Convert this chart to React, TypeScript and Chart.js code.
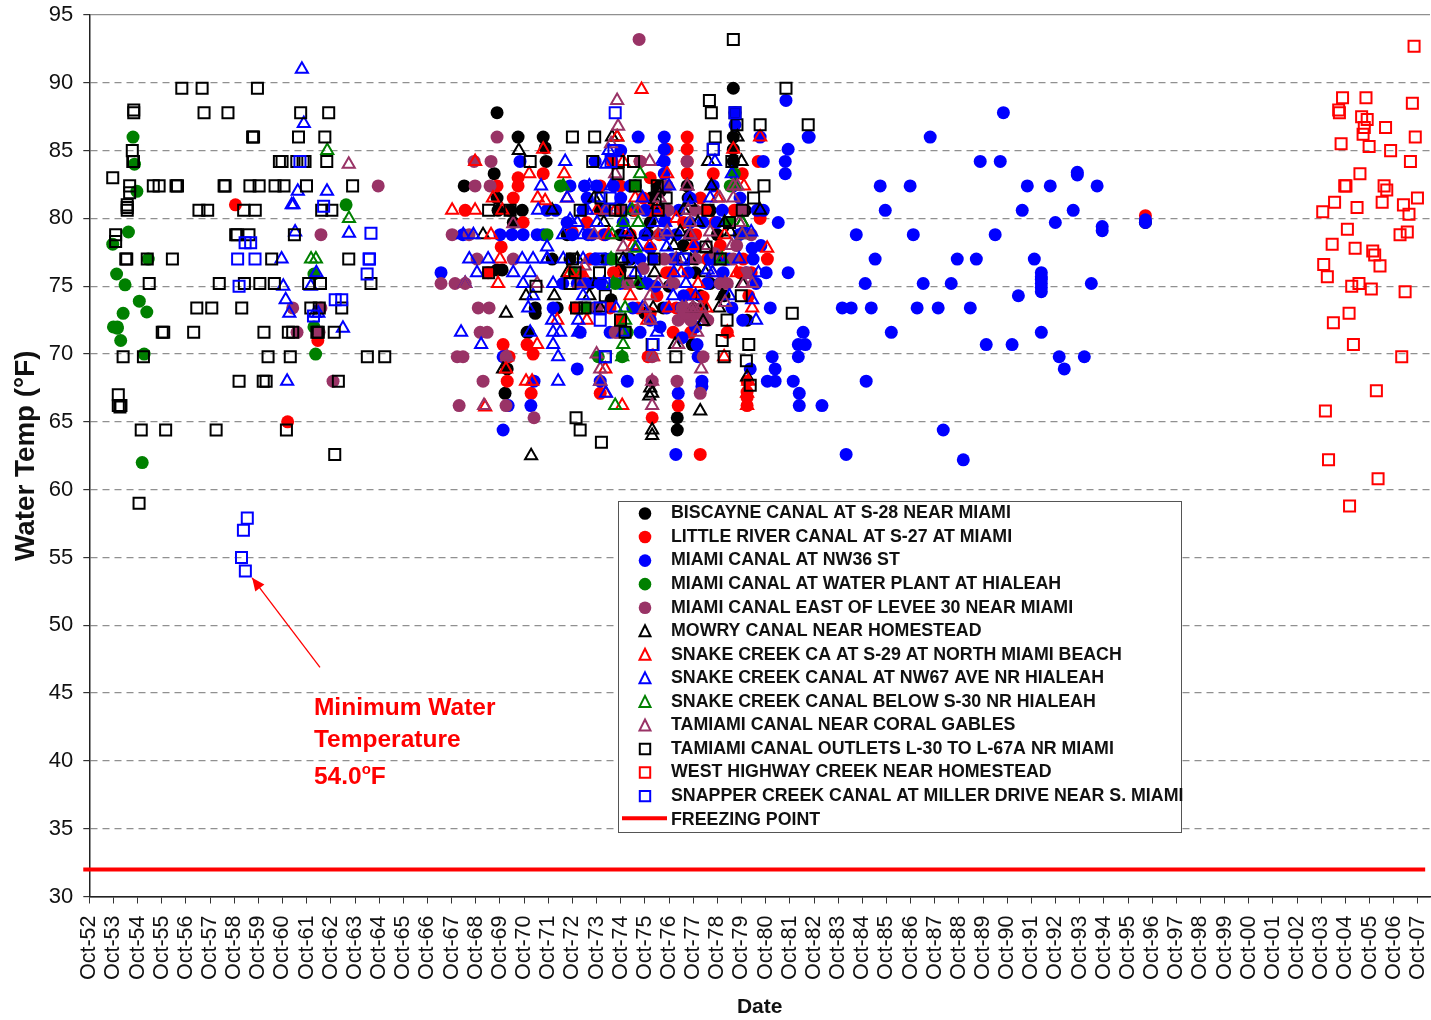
import React, { useEffect, useRef } from "react";
import { Chart, registerables } from "chart.js";

Chart.register(...registerables);

type P = [number, number];

// x = years since Oct-52, y = water temperature in deg F
const tickLabels = ["Oct-52","Oct-53","Oct-54","Oct-55","Oct-56","Oct-57","Oct-58","Oct-59","Oct-60","Oct-61","Oct-62","Oct-63","Oct-64","Oct-65","Oct-66","Oct-67","Oct-68","Oct-69","Oct-70","Oct-71","Oct-72","Oct-73","Oct-74","Oct-75","Oct-76","Oct-77","Oct-78","Oct-79","Oct-80","Oct-81","Oct-82","Oct-83","Oct-84","Oct-85","Oct-86","Oct-87","Oct-88","Oct-89","Oct-90","Oct-91","Oct-92","Oct-93","Oct-94","Oct-95","Oct-96","Oct-97","Oct-98","Oct-99","Oct-00","Oct-01","Oct-02","Oct-03","Oct-04","Oct-05","Oct-06","Oct-07"];

const biscayne: P[] = [[16.88,87.8],[17.75,86],[18.79,86],[18.87,85.2],[18.91,84.2],[15.52,82.4],[16.76,83.3],[16.88,81.5],[17.42,80.6],[17.92,80.6],[16.92,80.6],[17.55,79.7],[16.88,76.2],[17.09,76.2],[18.17,71.6],[18.12,71.6],[18.46,73],[17.3,68.9],[17.21,67.1],[24.34,65.3],[24.34,64.4],[26.66,89.6],[26.66,86],[26.66,85.1],[26.66,84.2],[23.51,82.4],[23.63,82],[24.75,82.4],[23.26,81.5],[23.34,80.6],[23.22,79.7],[23.13,78.8],[24.79,81.5],[24.25,77],[25.08,76],[25.7,75.2],[25.91,77],[25.29,74.3],[24.96,70.7],[26.28,74.3],[27.23,72.5],[21.15,80.6],[21.98,78.8],[18.46,73.4],[19.16,77],[19.9,77],[20.73,75.2],[21.36,77],[21.98,76.2],[22.8,75.2],[23.76,73.4],[26.32,77],[25.37,73.4],[24.87,78.8],[25.7,80.6],[26,78.8],[27.15,80.6],[19.78,78.8],[19.37,73.4],[43.72,79.7],[22.4,77],[23,73],[24,75],[24.6,78],[21.6,74],[22.5,80.6]];

const littleRiver: P[] = [[17.75,83],[17.75,82.4],[17.55,81.5],[18.79,83.3],[15.56,80.6],[16.88,82.4],[17.96,79.7],[17.05,77.9],[16.51,76],[17.13,70.7],[17.38,69.8],[18.12,70.7],[18.37,70],[17.3,68],[18.29,67.1],[21.15,67.1],[24.75,86],[24.75,85.1],[24.75,84.2],[24.75,83.3],[25.83,83.3],[27.69,84.2],[27.03,83.3],[23.92,85.1],[22.93,81.5],[26.12,78],[28.07,77],[25.29,62.6],[24.38,66.2],[23.3,65.3],[24.17,71.6],[23.13,69.8],[27.23,68],[27.23,66.2],[27.23,67.2],[27.23,66.8],[25.41,74.2],[24.87,74.4],[24.05,76],[25.58,77],[27.07,77],[26.94,76],[26.41,71.6],[21.15,82.4],[21.98,82.4],[21.64,84.2],[22.39,78.8],[23.22,80.6],[19.99,79],[20.32,76],[20.73,77],[21.56,73.4],[22.18,75.2],[23.22,73],[25.5,80.6],[23.22,83],[22.8,84.2],[27.77,80],[43.72,80.2],[6.05,81],[8.21,65],[9.46,71],[21.3,78.8],[21.7,76],[22,72.5],[22.6,80.6],[23.6,78.8],[23.9,76],[24.3,73.4],[24.6,79.7],[25.1,78.8],[25.3,81.5],[25.9,79.7],[26.4,77],[26.7,80.6],[27.3,74.3],[27.4,76],[22.7,73.4],[23.5,74.3],[24.9,71.6],[20.1,73.4],[20.6,79.7]];

const miamiNW36: P[] = [[14.56,76],[17.83,84.2],[19.9,82.4],[18.95,80.6],[19.78,79.7],[20.61,81.5],[20.44,80.6],[17,78.8],[17.5,78.8],[17.96,78.8],[18.54,78.8],[15.47,78.8],[19.99,78.8],[20.65,78.8],[20.2,75.2],[20.53,75.2],[19.2,73.4],[20.32,71.6],[17.13,69.8],[20.2,68.9],[21.15,68],[18.41,68],[18.28,66.2],[17.34,66.2],[17.13,64.4],[22.72,86],[23.8,86],[23.8,85.1],[23.8,84.2],[23.8,83.3],[25.83,82.4],[22.39,82.4],[24.87,81.5],[26.66,82.4],[26.94,81.5],[26.73,87.8],[26.73,86.9],[27.77,86],[28.93,85.1],[28.81,84.2],[28.81,83.3],[27.9,84.2],[28.84,88.7],[29.76,86],[28.52,79.7],[27.65,80.6],[27.9,80.6],[23.01,80.6],[23.84,79.8],[23.01,78.8],[23.84,78.8],[23.22,77.8],[23.34,77],[24.87,79.7],[25.99,79.7],[27.44,77.8],[27.48,77],[22.27,68],[24.38,67.1],[24.28,62.6],[28.19,73.4],[29.55,71.6],[29.35,70.7],[29.64,70.7],[29.35,69.8],[28.27,69.8],[28.39,68.9],[27.36,68.9],[28.07,68],[28.39,68],[29.14,68],[29.39,67.1],[29.39,66.2],[25.36,68],[25.36,67.6],[28.02,76],[26.24,76],[24.79,76],[25.58,75.2],[24.54,71.2],[25.16,70.7],[25.2,69.8],[30.33,66.2],[31.33,62.6],[36.18,62.2],[35.35,64.4],[32.16,68],[21.36,78.8],[21.56,77],[21.98,75.2],[22.8,77],[23.42,75],[24.13,75.2],[21.15,75.2],[20.94,77],[21.56,71.6],[23.63,72],[24.13,77],[22.8,71.6],[23.22,72.5],[24.5,73.4],[25.08,77.9],[26.2,80.6],[27.1,79],[22.1,79.7],[21,82.4],[22,81.5],[20.5,82.4],[20.94,84.2],[22,85],[21.98,80.6],[25.1,72],[37.84,87.8],[34.81,86],[29.8,86],[36.88,84.2],[37.71,84.2],[32.74,82.4],[33.98,82.4],[38.83,82.4],[39.78,82.4],[41.72,82.4],[40.9,83.4],[40.9,83.2],[32.95,80.6],[38.62,80.6],[40.73,80.6],[39.99,79.7],[41.93,79.4],[41.93,79.1],[31.75,78.8],[34.11,78.8],[37.5,78.8],[43.72,79.9],[43.72,79.7],[32.53,77],[35.93,77],[36.72,77],[39.12,77],[28.93,76],[39.41,76],[39.41,75.7],[39.41,75.5],[39.41,75.2],[39.41,74.9],[39.41,74.6],[32.12,75.2],[34.52,75.2],[35.68,75.2],[41.48,75.2],[38.46,74.3],[31.17,73.4],[31.54,73.4],[32.37,73.4],[34.27,73.4],[35.14,73.4],[36.47,73.4],[33.2,71.6],[39.41,71.6],[37.13,70.7],[38.2,70.7],[40.15,69.8],[41.19,69.8],[40.36,68.9],[18.8,78.8],[19.3,80.6],[19.6,75.2],[20.8,78.8],[20.9,73.4],[21.4,80.6],[21.7,82.4],[22.3,77],[22.5,73.4],[22.6,82.4],[23.1,75.2],[23.6,80.6],[23.9,73.4],[24.4,80.6],[24.6,74.3],[24.3,78.8],[25.4,79.7],[25.7,77],[26.1,75.2],[26.5,77],[26.9,78.8],[27.2,76],[27.6,75.2],[27.8,78],[26.6,73.4],[27.05,72.5]];

const waterPlant: P[] = [[1.81,86],[1.87,84],[1.97,82],[1.62,79],[0.97,78.1],[2.44,77],[1.13,75.9],[1.48,75.1],[2.07,73.9],[1.4,73],[2.38,73.1],[1.16,72],[1.16,71.9],[1.0,72],[1.3,71],[2.27,70],[9.3,75.9],[10.63,81],[9.3,72],[9.37,70],[2.19,62],[18.95,78.8],[19.5,82.4],[20.07,76],[20.57,73.4],[21.07,69.8],[21.64,77],[21.77,75.2],[22.27,71.6],[22.06,69.8],[26.49,79.7],[26.7,83.3],[26.53,82.4],[22.6,82.4]];

const eastLevee: P[] = [[22.76,93.2],[16.88,86],[15.93,84.2],[16.63,84.2],[15.97,82.4],[16.59,82.4],[15.02,78.8],[15.72,78.8],[14.56,75.2],[15.14,75.2],[15.56,75.2],[16.1,73.4],[16.55,73.4],[16.18,71.6],[16.47,71.6],[15.23,69.8],[15.47,69.8],[16.3,68],[15.31,66.2],[17.25,66.2],[18.41,65.3],[17.25,69.8],[11.96,82.4],[8.42,73.4],[8.6,71.6],[9.59,78.8],[9.51,71.6],[10.09,68],[9.59,73.4],[25.29,67.1],[24.33,68],[25.41,69.8],[24.38,72.5],[24.54,73.4],[26.66,77],[26.12,75.2],[26.41,75.2],[27.19,76],[21.77,71.6],[22.93,76.3],[22.8,84.2],[23.92,82.4],[24.75,84.2],[27.03,80.6],[25.08,80.6],[23.96,80.6],[21.98,80.6],[16.05,77],[17.55,77],[21.85,71.6],[21.02,73.4],[24.6,72.8],[25.2,73],[24.9,72.5],[25.6,72.5],[24.2,75.2],[25.1,77],[23.3,69.8],[23.3,68],[24.7,73],[25,73.4],[25.4,72.8],[23.8,77],[22.3,75.2],[26.8,78],[25.9,77.4],[27.4,78.8]];

const mowry: P[] = [[17.78,85],[21.64,86],[17.25,73],[18.29,62.5],[19.25,74.3],[18.08,74.3],[17.13,68.9],[16.3,78.8],[21.85,86],[24.75,82.4],[25.75,82.4],[26.83,86],[25.62,84.2],[27.0,84.2],[26.54,79],[24.87,81.2],[24.46,79],[23.51,82],[23.5,81],[25.5,77.8],[24.9,76.9],[27.77,80.6],[27.03,79.7],[25.29,65.8],[23.3,64.4],[23.3,64],[23.22,67.5],[23.18,66.9],[23.3,67.1],[26.07,73.4],[25.41,72.4],[24.25,70.7],[24.99,73.4],[23.34,73.4],[27.23,68.3],[26.2,74.3],[27.03,75.2],[25.5,76],[20.7,74.3],[21.15,73.4],[19.8,76],[19.16,80.6],[20.2,77],[24.6,80.6],[24.2,78],[23.4,76],[22.4,78.8],[22.1,77],[21.3,79.7],[20.9,81.5],[23.1,79],[25.2,79.7],[26.3,79.7]];

const snakeS29: P[] = [[22.86,89.5],[26.66,85.1],[26,81.5],[28.06,77.8],[21.85,86],[27.77,86],[23.92,83.3],[18.79,85.1],[15.97,84.2],[18.87,81.3],[18.56,81.5],[16.71,81.5],[15.02,80.6],[15.97,80.6],[21.02,80.6],[16.63,78.8],[21.77,80.6],[19.66,83.3],[18.21,83.3],[19.78,81.5],[17.1,80.6],[16.92,75.2],[21.36,68.9],[19.37,72.5],[18.54,70.7],[17.25,68.9],[16.39,66.1],[18.08,68],[18.33,68],[21.36,67.1],[22.06,66.2],[25.54,73.4],[26.28,69.8],[27.23,66.2],[27.28,68],[27.23,67.1],[27.44,73.4],[25.2,75.2],[26.41,71.6],[23.34,69.8],[22.4,74.3],[23.1,72.5],[17.0,77],[24.5,76],[25.8,76],[24.3,80],[22.5,78],[20.6,72.5],[21.5,78.8],[21.9,76],[22.6,81.5],[23.2,78],[23.5,80.6],[24,73.4],[25,78],[26.3,78.8],[26.8,76],[27.1,82.4],[22.1,84.2],[20.4,76],[19.9,76]];

const snakeNW67: P[] = [[8.8,91],[8.88,87],[9.84,82],[8.63,82],[8.38,81],[8.45,81],[8.52,79],[10.75,78.9],[7.96,77],[9.4,76],[8.03,75],[9.17,75],[8.13,74],[8.28,73],[9.34,73],[9.48,73],[10.5,71.9],[8.19,68],[19.7,84.2],[20.7,82.4],[18.95,77.9],[18.95,77],[18.7,82.4],[19.78,81.5],[18.58,80.6],[19.9,79.9],[19.61,78.8],[15.9,78.8],[15.48,78.8],[20.44,78.8],[21.02,79.7],[15.73,77],[16.51,77],[17.92,77],[18.37,77],[18.95,77],[19.62,77],[20.44,77],[16.05,76],[17.55,76],[18.25,76],[15.56,75.2],[17.96,75.2],[19.2,75.2],[18.37,74.3],[20.44,74.3],[18.17,73.4],[20.24,72.5],[19.16,72.5],[18.25,71.6],[19.2,71.6],[19.49,71.6],[20.24,71.6],[15.39,71.6],[16.22,70.7],[19.2,70.7],[19.41,69.8],[19.41,68],[21.39,67.1],[21.15,68],[22.9,81.5],[24.87,81.5],[25.7,81.5],[22.39,80.6],[23.84,79.7],[24.87,78.8],[23.01,78.8],[22.7,77.9],[23.9,77.9],[24.5,77],[25.8,76],[23.5,71.6],[24.17,74.3],[27.44,74],[27.6,72.5],[25.6,76.2],[21.4,84],[21.5,85],[22.2,79],[22.6,76],[23,75.2],[21.1,81.5],[21.6,82.4],[21.3,75.2],[21.8,73.4],[22.1,71.6],[22.9,73.4],[23.4,79.7],[24.2,76],[24.7,75.2],[25.1,74.3],[26,77],[26.5,74.3],[26.9,77],[27.4,79],[27.7,76],[20.9,75.2],[20.6,80.6],[20.2,79.7],[23.7,84.2],[24,82.4],[25.9,84.2],[26.6,83.3]];

const snakeBelow: P[] = [[9.85,85],[10.75,80],[9.18,77],[9.38,77],[19.62,82.4],[21.64,78.8],[21.77,66.2],[22.1,70.7],[22.06,69.8],[22.18,73.4],[22.18,72.5],[22.8,83.3],[22.47,80.6],[22.72,79.7],[22.1,79.7],[22.6,77.8],[27.03,79.7],[27.03,78.8],[26.73,82.4],[21.69,75.2],[22.72,75.2],[22.1,75.2],[21.6,77],[26.2,77]];

const tamiamiTri: P[] = [[10.74,84],[21.85,88.7],[21.89,86.8],[21.6,85.5],[21.77,83.3],[17.55,79.6],[26.66,82.4],[26.83,82.4],[26.66,81.5],[24.79,80.6],[24.75,82.4],[24.87,79.7],[24.87,78.8],[23.55,78.8],[23.92,79],[25.7,79],[27.03,78.8],[18.54,75.2],[15.56,75.2],[17.3,69.8],[21.15,68.9],[21.15,68],[16.34,66.2],[23.55,75.2],[24.05,75.2],[24.54,73.4],[24.99,73.4],[26.32,73.8],[26.32,75.2],[27.44,75.2],[23.22,74.3],[24.38,70.7],[25.16,71.6],[25.33,68.9],[23.3,69.8],[23.3,68],[23.3,66.2],[23.22,72.5],[22.31,75.2],[25.08,77],[23,73.4],[20.5,76.5],[21,70],[22.1,77.9],[22.7,80.6],[23.2,84.2],[23.6,81.5],[24.3,77],[24.7,73.4],[25.3,73.4],[25.6,78],[26.1,81.5],[26.6,78],[27.1,75.2],[26.9,79.7],[21.4,80.6],[20.9,78.8],[20.3,75.2]];

const tamiamiOutlets: P[] = [[3.83,89.6],[4.67,89.6],[6.96,89.6],[1.84,87.8],[1.84,88],[4.75,87.8],[5.74,87.8],[8.75,87.8],[9.91,87.8],[6.76,86],[6.8,86],[8.66,86],[9.75,86],[1.78,85],[1.8,84.2],[1.83,84.2],[7.87,84.2],[7.98,84.2],[8.59,84.2],[8.93,84.2],[8.85,84.2],[9.83,84.2],[0.97,83],[1.67,82.4],[1.67,81.9],[2.65,82.4],[2.89,82.4],[3.59,82.4],[3.65,82.4],[5.58,82.4],[5.62,82.4],[6.65,82.4],[7.03,82.4],[7.69,82.4],[8.06,82.4],[8.99,82.4],[10.9,82.4],[1.57,81],[1.57,80.6],[1.57,80.8],[4.54,80.6],[4.9,80.6],[6.39,80.6],[6.87,80.6],[9.62,80.6],[10.04,80.6],[1.09,78.8],[1.09,78.3],[6.06,78.8],[6.12,78.8],[6.61,78.8],[8.49,78.8],[1.51,77],[1.55,77],[2.4,77],[3.44,77],[7.55,77],[10.74,77],[2.48,75.2],[5.38,75.2],[6.42,75.2],[7.06,75.2],[7.66,75.2],[9.08,75.2],[9.57,75.2],[11.66,75.2],[4.45,73.4],[5.07,73.4],[6.31,73.4],[9.17,73.4],[9.52,73.4],[10.45,73.4],[3.02,71.6],[3.08,71.6],[4.32,71.6],[7.23,71.6],[8.24,71.6],[8.42,71.6],[9.42,71.6],[9.48,71.6],[10.14,71.6],[1.4,69.8],[2.24,69.8],[7.4,69.8],[8.32,69.8],[11.51,69.8],[12.23,69.8],[6.2,68],[7.2,68],[7.32,68],[10.31,68],[1.2,67],[1.2,66.2],[1.31,66.2],[1.27,66.1],[2.15,64.4],[3.16,64.4],[5.25,64.4],[8.16,64.4],[10.16,62.6],[2.06,59],[26.66,93.2],[28.84,89.6],[25.67,88.7],[25.75,87.8],[26.73,87.8],[26.81,86.9],[27.77,86.9],[29.76,86.9],[25.91,86],[25.83,85.1],[22.53,84.2],[26.6,84.2],[21.89,83.3],[22.6,82.4],[23.51,82.4],[27.93,82.4],[23.88,81.5],[27.5,81.5],[25.61,80.6],[27.03,80.6],[23.55,80.6],[22,80.6],[26.5,79.7],[25.53,77.9],[26.12,77],[22.04,77],[24.59,77],[23.38,77],[16.53,76],[18.49,75],[20,77],[20.11,76],[21.12,76],[17.42,80.6],[16.53,80.6],[18.25,84.2],[20.0,86],[20.92,86],[20.84,84.2],[20.32,80.6],[21.9,84.2],[21.18,81.5],[21.77,80.6],[22.41,76],[26.99,74.3],[29.1,73],[26.4,72.5],[21.99,72.5],[22.18,71.6],[23.3,70.7],[26.2,71],[27.3,70.7],[24.28,69.8],[26.28,69.8],[27.2,69.5],[27.36,67.7],[20.17,73.4],[20.52,73.4],[21.36,74.3],[20.15,65.3],[20.32,64.4],[21.2,63.5],[21.36,69.8],[19.9,75.2]];

const westHighway: P[] = [[54.84,92.7],[51.88,88.9],[52.85,88.9],[54.77,88.5],[51.72,88],[51.75,87.8],[52.67,87.5],[52.9,87.3],[52.78,86.7],[52.73,86.2],[53.66,86.7],[54.89,86],[51.82,85.5],[52.98,85.3],[53.87,85],[54.69,84.2],[52.6,83.3],[51.97,82.4],[52.02,82.4],[53.6,82.4],[53.71,82.1],[54.98,81.5],[51.55,81.2],[53.52,81.2],[52.48,80.8],[54.4,81],[51.06,80.5],[54.63,80.3],[52.08,79.2],[54.56,79],[54.26,78.8],[51.45,78.1],[52.4,77.8],[53.13,77.6],[53.21,77.3],[53.43,76.5],[51.1,76.6],[51.25,75.7],[52.26,75],[52.56,75.2],[53.07,74.8],[54.47,74.6],[52.15,73],[51.5,72.3],[52.33,70.7],[54.33,69.8],[53.28,67.3],[51.17,65.8],[51.3,62.2],[53.35,60.8],[52.17,58.8]];

const snapper: P[] = [[6.14,77],[6.68,78.2],[6.45,78.2],[6.86,77],[9.7,80.9],[11.66,78.9],[11.58,77],[11.6,77],[11.5,75.9],[6.2,75],[8.72,84.2],[10.18,74],[10.45,74],[9.28,72.8],[6.54,57.9],[6.38,57],[6.3,55],[6.46,54],[21.77,87.8],[21.72,85],[21.6,84.2],[21.56,81.5],[21.15,77],[21.3,75.2],[21.15,73.4],[21.15,72.5],[21.36,69.8],[23.34,70.7],[24.59,77],[25.83,85.1],[26.73,87.8]];

const freezingX = [-0.25, 55.3];
const freezingY = [32, 32];

const annotationLines = ["Minimum Water", "Temperature"];
const annotationValue = "54.0";
const arrowFrom: P = [9.55, 46.9];
const arrowTo: P = [6.74, 53.5];

const RED = "#ff0000", BLUE = "#0000ff", GREEN = "#008000", PURPLE = "#993366", BLACK = "#000000";
const seriesDefs: { label: string; data: P[]; style: "circle" | "triangle" | "rect"; color: string }[] = [
  { label: "BISCAYNE CANAL AT S-28 NEAR MIAMI", data: biscayne, style: "circle", color: BLACK },
  { label: "LITTLE RIVER CANAL AT S-27 AT MIAMI", data: littleRiver, style: "circle", color: RED },
  { label: "MIAMI CANAL AT NW36 ST", data: miamiNW36, style: "circle", color: BLUE },
  { label: "MIAMI CANAL AT WATER PLANT AT HIALEAH", data: waterPlant, style: "circle", color: GREEN },
  { label: "MIAMI CANAL EAST OF LEVEE 30 NEAR MIAMI", data: eastLevee, style: "circle", color: PURPLE },
  { label: "MOWRY CANAL NEAR HOMESTEAD", data: mowry, style: "triangle", color: BLACK },
  { label: "SNAKE CREEK CA AT S-29 AT NORTH MIAMI BEACH", data: snakeS29, style: "triangle", color: RED },
  { label: "SNAKE CREEK CANAL AT NW67 AVE NR HIALEAH", data: snakeNW67, style: "triangle", color: BLUE },
  { label: "SNAKE CREEK CANAL BELOW S-30 NR HIALEAH", data: snakeBelow, style: "triangle", color: GREEN },
  { label: "TAMIAMI CANAL NEAR CORAL GABLES", data: tamiamiTri, style: "triangle", color: PURPLE },
  { label: "TAMIAMI CANAL OUTLETS L-30 TO L-67A NR MIAMI", data: tamiamiOutlets, style: "rect", color: BLACK },
  { label: "WEST HIGHWAY CREEK NEAR HOMESTEAD", data: westHighway, style: "rect", color: RED },
  { label: "SNAPPER CREEK CANAL AT MILLER DRIVE NEAR S. MIAMI", data: snapper, style: "rect", color: BLUE },
];
const freezingLabel = "FREEZING POINT";

const FONT = '"Liberation Sans", Arial, sans-serif';

const overlayPlugin = {
  id: "overlay",
  afterDatasetsDraw(chart: any) {
    const { ctx, scales } = chart;
    const x = scales.x, y = scales.y;
    ctx.save();

    // arrow
    const x1 = x.getPixelForValue(arrowFrom[0]), y1 = y.getPixelForValue(arrowFrom[1]);
    const x2 = x.getPixelForValue(arrowTo[0]), y2 = y.getPixelForValue(arrowTo[1]);
    const ang = Math.atan2(y2 - y1, x2 - x1);
    ctx.strokeStyle = RED;
    ctx.fillStyle = RED;
    ctx.lineWidth = 1.3;
    ctx.beginPath();
    ctx.moveTo(x1, y1);
    ctx.lineTo(x2, y2);
    ctx.stroke();
    ctx.beginPath();
    ctx.moveTo(x2, y2);
    ctx.lineTo(x2 - 14 * Math.cos(ang - 0.42), y2 - 14 * Math.sin(ang - 0.42));
    ctx.lineTo(x2 - 14 * Math.cos(ang + 0.42), y2 - 14 * Math.sin(ang + 0.42));
    ctx.closePath();
    ctx.fill();

    // annotation
    ctx.font = `bold 24.5px ${FONT}`;
    ctx.textBaseline = "alphabetic";
    ctx.textAlign = "left";
    const ax = x.getPixelForValue(9.3);
    ctx.fillText(annotationLines[0], ax, y.getPixelForValue(43.4));
    ctx.fillText(annotationLines[1], ax, y.getPixelForValue(41.03));
    const vy = y.getPixelForValue(38.3);
    ctx.fillText(annotationValue, ax, vy);
    const w = ctx.measureText(annotationValue).width;
    ctx.font = `bold 15px ${FONT}`;
    ctx.fillText("o", ax + w, vy - 10);
    const ow = ctx.measureText("o").width;
    ctx.font = `bold 24.5px ${FONT}`;
    ctx.fillText("F", ax + w + ow, vy);

    // legend
    const bx = 618, by = 501, bw = 563, bh = 331;
    ctx.fillStyle = "#ffffff";
    ctx.fillRect(bx, by, bw, bh);
    ctx.strokeStyle = "#555555";
    ctx.lineWidth = 1;
    ctx.strokeRect(bx + 0.5, by + 0.5, bw, bh);
    const rowH = 23.55;
    ctx.textBaseline = "middle";
    ctx.font = `bold 17.8px ${FONT}`;
    seriesDefs.forEach((s, i) => {
      const cy = by + 12.5 + i * rowH;
      ctx.fillStyle = "#111111";
      ctx.fillText(s.label, 671, cy);
      ctx.strokeStyle = s.color;
      ctx.fillStyle = s.color;
      ctx.lineWidth = 2;
      const cx = 645;
      ctx.beginPath();
      if (s.style === "circle") {
        ctx.arc(cx, cy, 6.3, 0, Math.PI * 2);
        ctx.fill();
      } else if (s.style === "triangle") {
        ctx.moveTo(cx, cy - 6);
        ctx.lineTo(cx + 5.5, cy + 5);
        ctx.lineTo(cx - 5.5, cy + 5);
        ctx.closePath();
        ctx.stroke();
      } else {
        ctx.rect(cx - 5.2, cy - 5.2, 10.4, 10.4);
        ctx.stroke();
      }
    });
    const fy = by + 12.5 + seriesDefs.length * rowH;
    ctx.fillStyle = "#111111";
    ctx.fillText(freezingLabel, 671, fy);
    ctx.strokeStyle = RED;
    ctx.lineWidth = 4;
    ctx.beginPath();
    ctx.moveTo(622, fy - 1.5);
    ctx.lineTo(667, fy - 1.5);
    ctx.stroke();
    ctx.restore();
  },
};

export default function App() {
  const ref = useRef<HTMLCanvasElement>(null);
  useEffect(() => {
    const datasets: any[] = seriesDefs.map((s, i) => ({
      type: "scatter",
      label: s.label,
      data: s.data.map(([x, y]) => ({ x, y })),
      pointStyle: s.style,
      pointRadius: s.style === "circle" ? 6.5 : s.style === "triangle" ? 7 : 7.8,
      pointBorderWidth: s.style === "circle" ? 0 : 2,
      pointBorderColor: s.color,
      pointBackgroundColor: s.style === "circle" ? s.color : "transparent",
      showLine: false,
      order: 20 - i,
    }));
    datasets.push({
      type: "scatter",
      label: freezingLabel,
      data: freezingX.map((x, i) => ({ x, y: freezingY[i] })),
      showLine: true,
      borderColor: RED,
      borderWidth: 4,
      pointRadius: 0,
      clip: false,
      order: 0,
    });
    const chart = new Chart(ref.current!, {
      type: "scatter",
      data: { datasets },
      plugins: [overlayPlugin],
      options: {
        responsive: false,
        animation: false,
        devicePixelRatio: 1,
        layout: { autoPadding: false, padding: { top: 15, right: 1, left: 0, bottom: 0 } },
        plugins: { legend: { display: false }, tooltip: { enabled: false }, title: { display: false } },
        scales: {
          x: {
            type: "linear",
            min: 0,
            max: 55.5,
            afterFit: (s: any) => { s.height = 123.5; s.paddingLeft = 0; s.paddingRight = 0; },
            ticks: {
              stepSize: 1,
              autoSkip: false,
              includeBounds: false,
              minRotation: 90,
              maxRotation: 90,
              padding: 12,
              color: "#111111",
              font: { family: FONT, size: 21.5 },
              callback: (v: any) => tickLabels[Number(v)] ?? "",
            },
            grid: { drawOnChartArea: false, drawTicks: true, tickLength: 7, color: "#333333", lineWidth: 1 },
            border: { color: "#222222", width: 1.5 },
            title: {
              display: true,
              text: "Date",
              color: "#111111",
              font: { family: FONT, size: 21, weight: "bold" },
              padding: { top: 0, bottom: 0 },
            },
          },
          y: {
            min: 30,
            max: 95,
            afterFit: (s: any) => { s.width = 89.3; s.paddingTop = 0; s.paddingBottom = 0; },
            ticks: {
              stepSize: 5,
              padding: 10,
              color: "#111111",
              font: { family: FONT, size: 22 },
            },
            grid: {
              color: (c: any) => (c.tick && c.tick.value === 30 ? "#222222" : "#909090"),
              lineWidth: 1.2,
              tickLength: 6,
              tickColor: "#333333",
            } as any,
            border: {
              color: "#222222",
              width: 1.5,
              dash: (c: any) => (c.tick && (c.tick.value === 95 || c.tick.value === 30) ? [] : [7, 5]),
            } as any,
            title: {
              display: true,
              text: "Water Temp (°F)",
              color: "#111111",
              font: { family: FONT, size: 27.8, weight: "bold" },
              padding: { top: 9.5, bottom: 0 },
            },
          },
        },
      } as any,
    });
    return () => chart.destroy();
  }, []);
  return (
    <div style={{ position: "fixed", left: 0, top: 0, width: 1431, height: 1020, background: "#fff" }}>
      <canvas ref={ref} width={1431} height={1020} style={{ display: "block" }} />
    </div>
  );
}
